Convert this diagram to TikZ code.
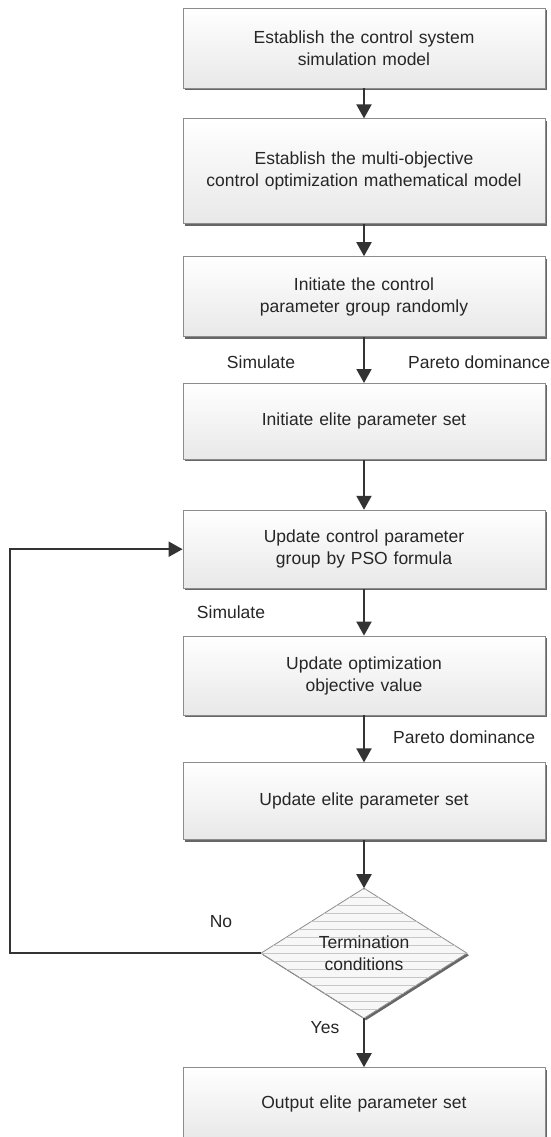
\documentclass[tikz,border=0pt]{standalone}
\usepackage{fontspec}
\setmainfont{Liberation Sans}
\usetikzlibrary{shapes.geometric, arrows.meta, positioning, shadows, patterns.meta}

\begin{document}
\begin{tikzpicture}[
    x=1pt, y=1pt,
    node distance=30pt,
    font=\fontsize{17.5}{22}\selectfont,
    base/.style={draw=black!45, line width=0.8pt, align=center, inner sep=2pt, text=black!85,
      drop shadow={shadow xshift=2pt, shadow yshift=-2pt, fill=black!60, opacity=1}},
    stepbox/.style={base, rectangle, minimum width=362pt, text width=340pt,
      top color=white, bottom color=black!9},
    decision/.style={base, diamond, aspect=1.58, minimum width=206pt, minimum height=130pt,
      inner sep=0pt, outer sep=0pt, fill=black!3,
      postaction={pattern={Lines[angle=0, distance=8pt, line width=0.6pt]}, pattern color=black!22}},
    lbl/.style={inner sep=0pt, text=black!85},
    arrow/.style={-{Triangle[width=15pt, length=14pt]}, line width=2pt, black!80}
  ]
    \useasboundingbox (0,0) rectangle (551,-1137);

    \node[stepbox, minimum height=80pt] (model) at (364,-48)
    {Establish the control system\\simulation model};
    \node[stepbox, minimum height=105pt, below=30pt of model] (objmodel)
    {Establish the multi-objective\\control optimization mathematical model};
    \node[stepbox, minimum height=80pt, below=32pt of objmodel] (initgrp)
    {Initiate the control\\parameter group randomly};
    \node[stepbox, minimum height=76pt, below=46pt of initgrp] (initset)
    {Initiate elite parameter set};
    \node[stepbox, minimum height=78pt, below=50pt of initset] (updgrp)
    {Update control parameter\\group by PSO formula};
    \node[stepbox, minimum height=79pt, below=47pt of updgrp] (updobj)
    {Update optimization\\objective value};
    \node[stepbox, minimum height=77pt, below=47pt of updobj] (updset)
    {Update elite parameter set};
    \node[decision, below=48pt of updset] (term)
    {Termination\\conditions};
    \node[stepbox, minimum height=73pt, below=49pt of term] (output)
    {Output elite parameter set};

    % edge labels
    \node[lbl] (sim1) at (261,-362) {Simulate};
    \node[lbl, anchor=west] (par1) at (408,-362) {Pareto dominance};
    \node[lbl] (sim2) at (231,-612) {Simulate};
    \node[lbl, anchor=west] (par2) at (393,-737) {Pareto dominance};
    \node[lbl] (no) at (221,-922) {No};
    \node[lbl] (yes) at (325,-1028) {Yes};

    \coordinate (loop) at ([xshift=-251pt]term.west);

    \draw[arrow] (model) -- (objmodel);
    \draw[arrow] (objmodel) -- (initgrp);
    \draw[arrow] (initgrp) -- (initset);
    \draw[arrow] (initset) -- (updgrp);
    \draw[arrow] (updgrp) -- (updobj);
    \draw[arrow] (updobj) -- (updset);
    \draw[arrow] (updset) -- (term);
    \draw[arrow] (term) -- (output);
    \draw[arrow] (term.west) -- (loop) |- (updgrp.west);
  \end{tikzpicture}
\end{document}
